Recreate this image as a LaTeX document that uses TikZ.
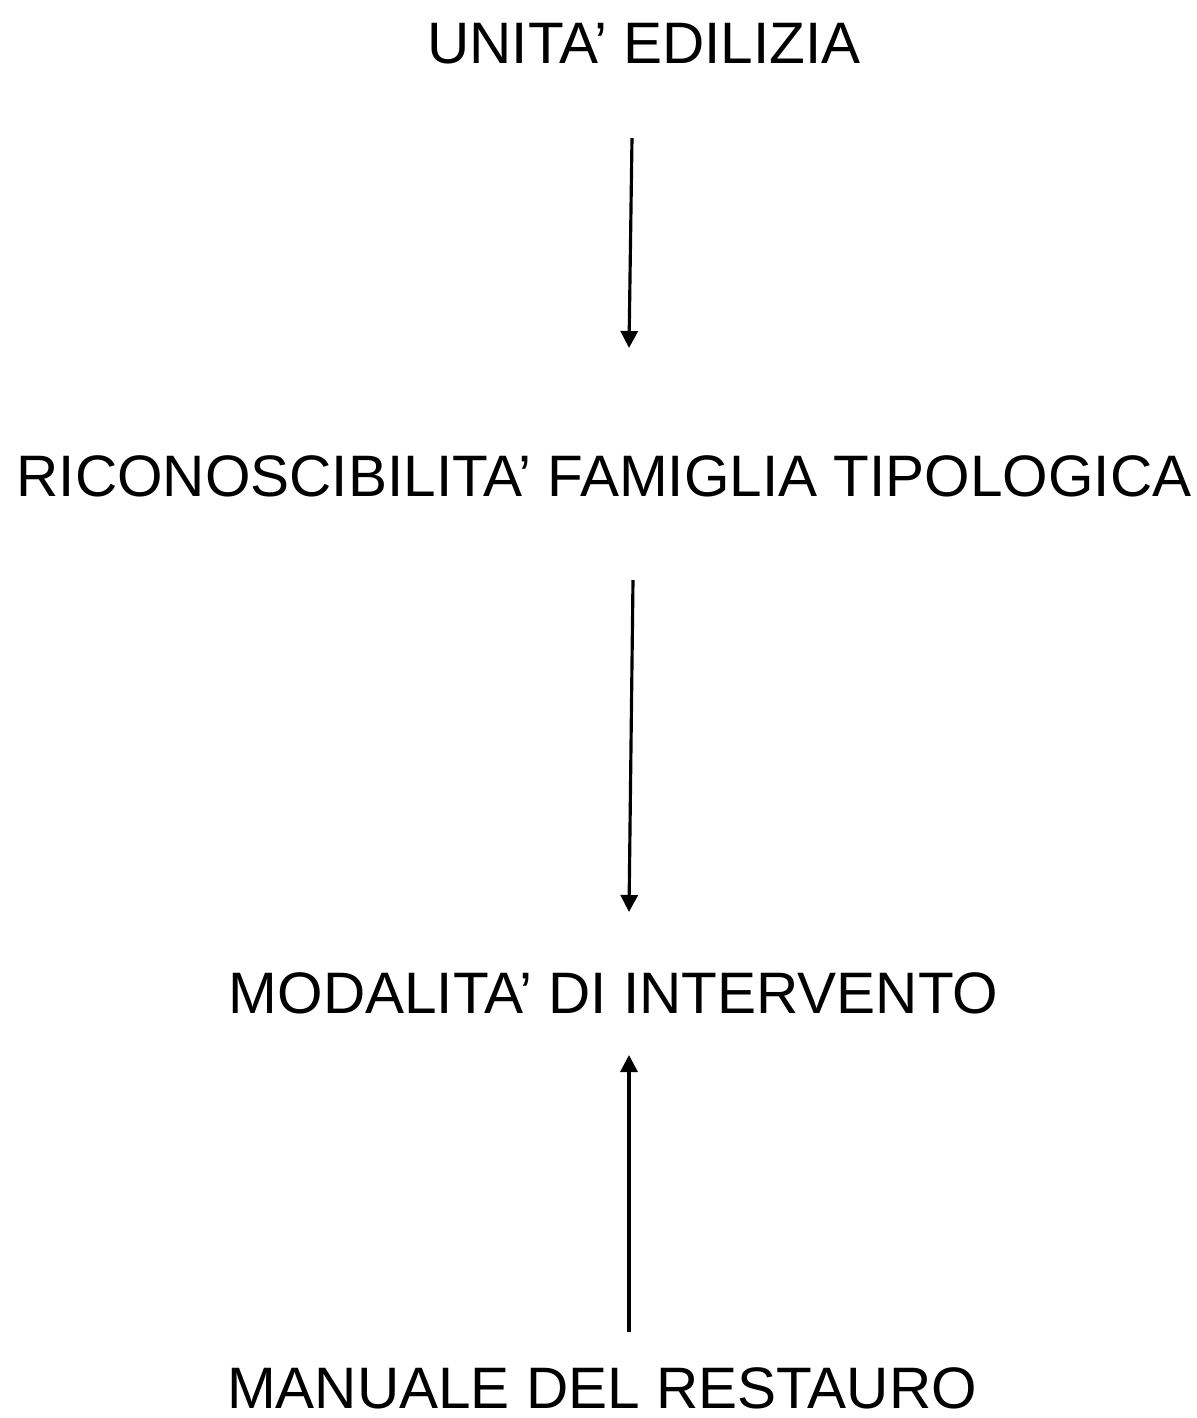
\documentclass[tikz,border=0pt]{standalone}
\usepackage{fontspec}
\setmainfont{Liberation Sans}
\usetikzlibrary{arrows.meta}

\begin{document}
\begin{tikzpicture}[x=.02cm,y=-.02cm,
        step label/.style={anchor=base,inner sep=0pt,
          font=\fontsize{33.3}{40}\selectfont},
        flow/.style={line width=1.8pt,
          -{Triangle[length=.34cm,width=.34cm]}}]
        \useasboundingbox (0,0) rectangle (1197,1418);

        % The four steps, top to bottom.
        \node[step label] (unita) at (644,63) {UNITA’ EDILIZIA};
        \node[step label] (famiglia) at (604,496)
          {RICONOSCIBILITA’ FAMIGLIA TIPOLOGICA};
        \node[step label] (modalita) at (613.5,1013)
          {MODALITA’ DI INTERVENTO};
        \node[step label] (manuale) at (602,1408) {MANUALE DEL RESTAURO};

        % Arrow ends sit in the gaps between the labels.
        \coordinate (unita out) at (632,138);
        \coordinate (famiglia in) at (629,348);
        \coordinate (famiglia out) at (633,580);
        \coordinate (modalita in) at (629,912);
        \coordinate (manuale out) at (629,1332);
        \coordinate (modalita up) at (629,1055);

        \draw[flow] (unita out)--(famiglia in);
        \draw[flow] (famiglia out)--(modalita in);
        \draw[flow] (manuale out)--(modalita up);
      \end{tikzpicture}
\end{document}
